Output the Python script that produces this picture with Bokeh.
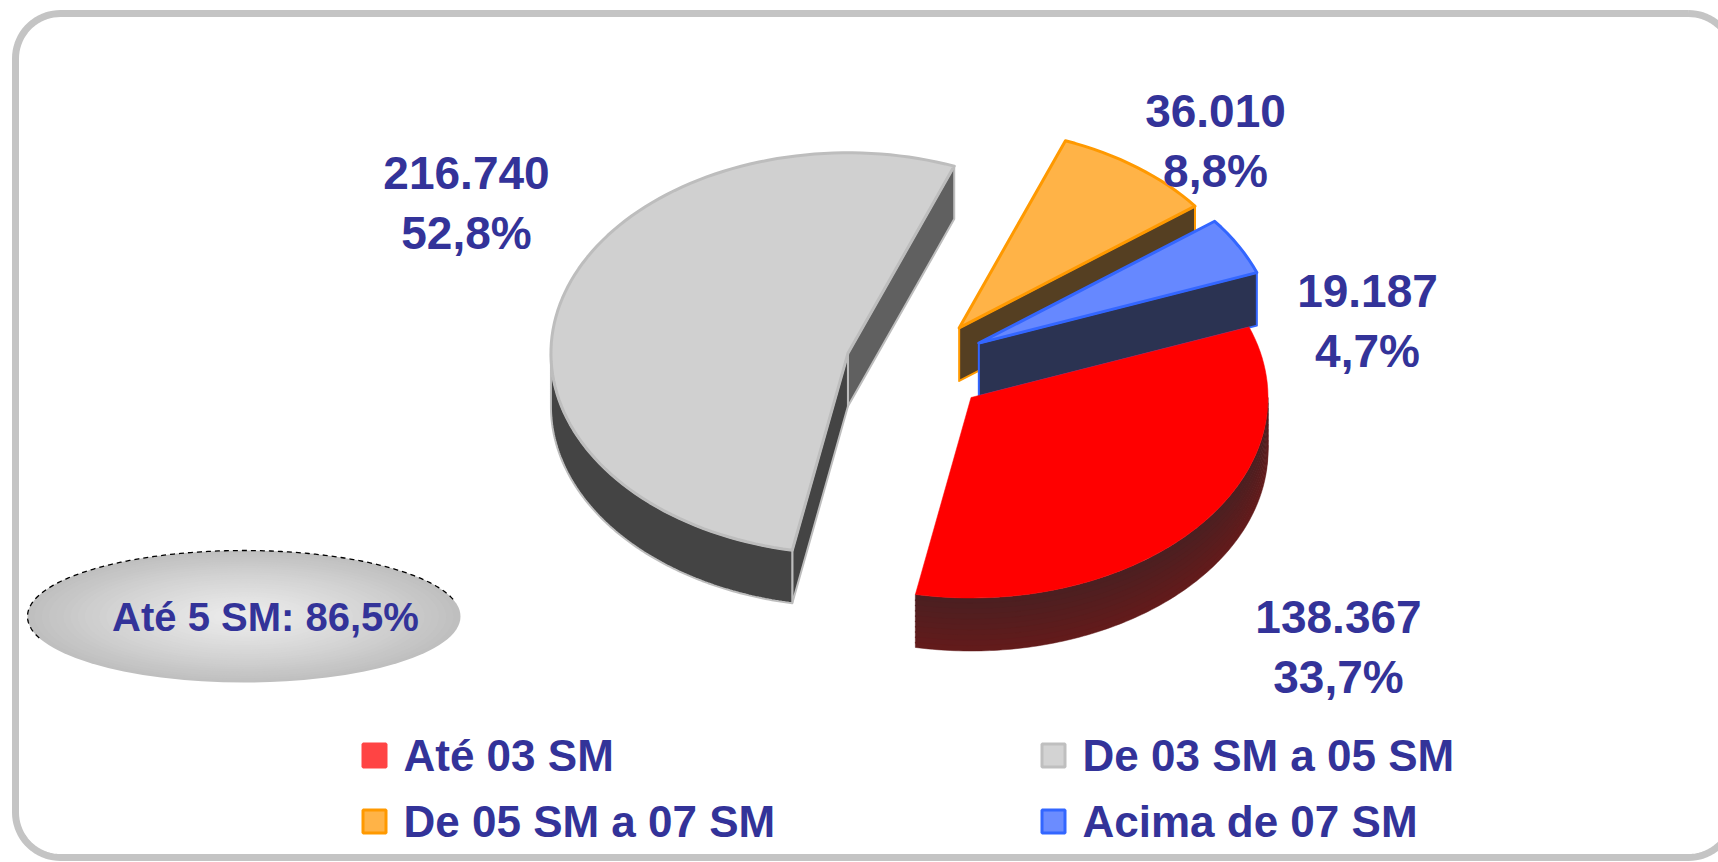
import numpy as np
from bokeh.plotting import figure
from bokeh.models import Range1d
from bokeh.core.properties import value
from bokeh.embed import file_html
from bokeh.resources import INLINE

# ---------------- data ----------------
categories = ["Até 03 SM", "De 03 SM a 05 SM", "De 05 SM a 07 SM", "Acima de 07 SM"]
counts = [138367, 216740, 36010, 19187]
badge_members = [0, 1]          # slices summed in the "Até 5 SM" badge
badge_prefix = "Até 5 SM: "

# ---------------- styles ----------------
top_colors = ["#ff0000", "#d0d0d0", "#ffb347", "#6688ff"]
edge_colors = [None, "#bdbdbd", "#ff9900", "#3366ff"]
wall_colors = [("#4c1f21", "#621b1b"), ("#444444", "#444444"), ("#553f22", "#553f22"), ("#2b3352", "#2b3352")]
face_lo_colors = ["#561e1f", "#606060", "#553f22", "#2b3352"]
face_hi_colors = ["#561e1f", "#444444", "#553f22", "#2b3352"]
legend_fill = ["#ff4444", "#d3d3d3", "#ffb347", "#6b8cff"]
legend_line = ["#ff4444", "#bfbfbf", "#ff9900", "#3366ff"]
TXT = "#333399"
FONT = value("Liberation Sans")

# ---------------- layout ----------------
W, H = 1718, 862
CX, CY = 916.0, 366.0
RX, RY = 297.0, 200.5
DEPTH = 53.0
EXPLODE = 0.24
START_DEG = 20.6
draw_order = [2, 3, 0, 1]
label_pos = [(1338, 616), (466, 172), (1215, 110), (1367, 290)]
label_gap = 60
legend_cols = [361, 1040]
legend_rows = [755, 821]
legend_box = 26

p = figure(width=W, height=H, output_backend="svg", toolbar_location=None,
           x_range=Range1d(0, W), y_range=Range1d(H, 0),
           x_axis_location=None, y_axis_location=None, min_border=0)
p.grid.visible = False
p.outline_line_color = None
p.background_fill_color = "white"
p.border_fill_color = "white"

# ---------------- rounded frame ----------------
fx0, fy0, fx1, fy1, fr = 15, 13, 1733, 857, 45
fxs, fys = [], []
for (ccx, ccy, a0, a1) in [(fx1 - fr, fy0 + fr, 90, 0), (fx1 - fr, fy1 - fr, 0, -90),
                           (fx0 + fr, fy1 - fr, -90, -180), (fx0 + fr, fy0 + fr, 180, 90)]:
    tt = np.radians(np.linspace(a0, a1, 20))
    fxs += list(ccx + fr * np.cos(tt))
    fys += list(ccy - fr * np.sin(tt))
fxs.append(fxs[0]); fys.append(fys[0])
p.line(fxs, fys, line_color="#c4c4c4", line_width=7)

# ---------------- pie geometry ----------------
total = float(sum(counts))
fracs = [c / total for c in counts]
cum = np.concatenate([[0], np.cumsum(fracs)])
start = np.radians(START_DEG)


def pt(c, t, dz=0.0):
    return c[0] + RX * np.cos(t), c[1] - RY * np.sin(t) + dz


slices = []
for i, f in enumerate(fracs):
    t_hi = start - cum[i] * 2 * np.pi
    t_lo = t_hi - f * 2 * np.pi
    mid = 0.5 * (t_lo + t_hi)
    c = (CX + EXPLODE * RX * np.cos(mid), CY - EXPLODE * RY * np.sin(mid))
    slices.append((t_lo, t_hi, mid, c))


def hex2rgb(h):
    h = h.lstrip("#")
    return np.array([int(h[k:k + 2], 16) for k in (0, 2, 4)], float)


def rgb2hex(a):
    return "#%02x%02x%02x" % tuple(int(round(v)) for v in a)


for i in draw_order:
    t_lo, t_hi, mid, c = slices[i]
    edge = edge_colors[i]
    lw = 3 if edge else 0
    # radial faces
    faces = []
    if np.cos(t_lo) > 0:
        faces.append((t_lo, face_lo_colors[i]))
    if np.cos(t_hi) < 0:
        faces.append((t_hi, face_hi_colors[i]))
    for (t, col) in faces:
        x1, y1 = pt(c, t)
        xs = [c[0], x1, x1, c[0]]
        ys = [c[1], y1, y1 + DEPTH, c[1] + DEPTH]
        p.patch(xs, ys, fill_color=col, line_color=edge if edge else col,
                line_width=2 if edge else 1, line_join="round")
    # outer wall (front facing part)
    for k in range(-3, 3):
        a, b = -np.pi + 2 * np.pi * k, 2 * np.pi * k
        lo, hi = max(t_lo, a), min(t_hi, b)
        if hi - lo <= 1e-6:
            continue
        ts = np.linspace(lo, hi, 120)
        c0, c1 = hex2rgb(wall_colors[i][0]), hex2rgb(wall_colors[i][1])
        nb = 10 if wall_colors[i][0] != wall_colors[i][1] else 1
        for j in range(nb):
            z0 = DEPTH * j / nb
            z1 = DEPTH * (j + 1) / nb + (1.0 if j < nb - 1 else 0.0)
            xt, yt = pt(c, ts, z0)
            xb, yb = pt(c, ts[::-1], z1)
            col = rgb2hex(c0 + (c1 - c0) * (j / max(nb - 1, 1)))
            p.patch(list(xt) + list(xb), list(yt) + list(yb), fill_color=col,
                    line_color=edge if (edge and nb == 1) else col,
                    line_width=2 if (edge and nb == 1) else 0.5)
    # top face
    ts = np.linspace(t_lo, t_hi, max(8, int(200 * (t_hi - t_lo) / (2 * np.pi))))
    xa, ya = pt(c, ts)
    p.patch([c[0]] + list(xa), [c[1]] + list(ya), fill_color=top_colors[i],
            line_color=edge if edge else top_colors[i], line_width=lw if edge else 0.5,
            line_join="round")


# ---------------- data labels ----------------
def br_int(v):
    return f"{v:,}".replace(",", ".")


def br_pct(x):
    return f"{x:.1f}".replace(".", ",") + "%"


lx = [lp[0] for lp in label_pos]
ly = [lp[1] for lp in label_pos]
p.text(x=lx, y=ly, text=[br_int(v) for v in counts], text_font=FONT, text_font_style="bold",
       text_font_size="46px", text_color=TXT, text_align="center", text_baseline="middle")
p.text(x=lx, y=[y + label_gap for y in ly], text=[br_pct(100 * f) for f in fracs], text_font=FONT,
       text_font_style="bold", text_font_size="46px", text_color=TXT, text_align="center",
       text_baseline="middle")

# ---------------- badge ellipse ----------------
bx, by, bw, bh = 243.5, 616.0, 433.0, 132.0
outer, inner = hex2rgb("#bfbfbf"), hex2rgb("#ebebeb")
for s in np.linspace(1.0, 0.04, 30):
    col = rgb2hex(inner + (outer - inner) * s ** 1.3)
    p.ellipse(x=[bx], y=[by], width=[bw * s], height=[bh * s], fill_color=col, line_color=None)
tt = np.radians(np.linspace(15, 200, 200))
p.line(bx + bw / 2 * np.cos(tt), by - bh / 2 * np.sin(tt), line_color="black", line_width=1.3,
       line_dash="5 4")
badge_pct = 100 * sum(fracs[k] for k in badge_members)
p.text(x=[265], y=[616], text=[badge_prefix + br_pct(badge_pct)], text_font=FONT,
       text_font_style="bold", text_font_size="40px", text_color=TXT, text_align="center",
       text_baseline="middle")

# ---------------- legend ----------------
for i, name in enumerate(categories):
    x0 = legend_cols[i % 2]
    yc = legend_rows[i // 2]
    p.rect(x=[x0 + legend_box / 2], y=[yc], width=[legend_box - 3], height=[legend_box - 3],
           fill_color=legend_fill[i], line_color=legend_line[i], line_width=3)
    p.text(x=[x0 + 42], y=[yc], text=[name], text_font=FONT, text_font_style="bold",
           text_font_size="44px", text_color=TXT, text_align="left", text_baseline="middle")

open("out.html", "w").write(file_html(p, INLINE))
